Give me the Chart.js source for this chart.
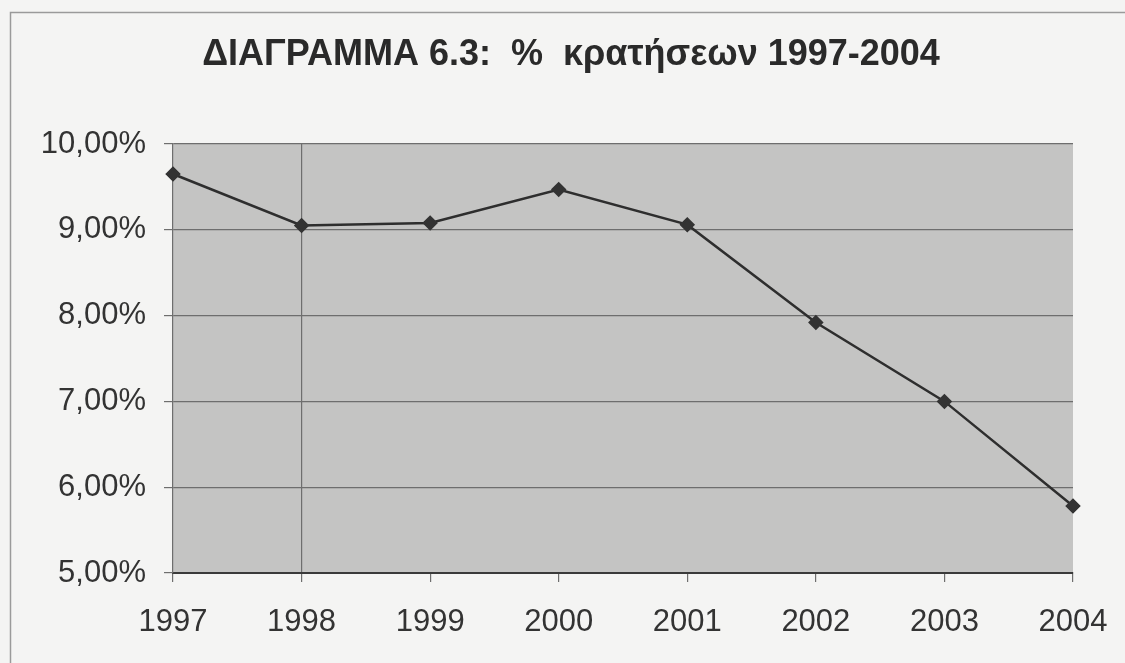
<!DOCTYPE html>
<html lang="el">
<head>
    <meta charset="UTF-8">
    <title>ΔΙΑΓΡΑΜΜΑ 6.3</title>
    <script src="https://cdn.jsdelivr.net/npm/chart.js"></script>
    <style>
        html, body { margin: 0; padding: 0; background: #f4f4f3; }
        .chart-wrap { width: 1125px; height: 663px; position: relative; }
    </style>
</head>
<body>
    <div class="chart-wrap">
        <canvas id="rateChart"></canvas>
    </div>

    <script>
        // Data
        const years = ['1997', '1998', '1999', '2000', '2001', '2002', '2003', '2004'];
        const rates = [9.65, 9.05, 9.08, 9.47, 9.06, 7.92, 7.00, 5.78];
        const yTicks = [5, 6, 7, 8, 9, 10];

        const titleText = 'ΔΙΑΓΡΑΜΜΑ 6.3:  %  κρατήσεων 1997-2004';

        // page background, outer frame, grey plot area and the title
        const backdrop = {
            id: 'backdrop',
            beforeDraw(chart) {
                const ctx = chart.ctx;
                const a = chart.chartArea;
                ctx.save();
                ctx.fillStyle = '#f4f4f3';
                ctx.fillRect(0, 0, chart.width, chart.height);
                ctx.strokeStyle = '#9a9a9a';
                ctx.lineWidth = 1.5;
                ctx.strokeRect(10.5, 12.5, chart.width + 20, chart.height + 20);
                ctx.fillStyle = '#c4c4c3';
                ctx.fillRect(a.left, a.top, a.right - a.left, a.bottom - a.top);

                ctx.fillStyle = '#2a2a2a';
                ctx.font = 'bold 36px "Liberation Sans", Arial';
                ctx.textAlign = 'center';
                ctx.textBaseline = 'middle';
                ctx.fillText(titleText, 571, 55);
                ctx.restore();
            }
        };

        function fmtPct(v) {
            return v.toFixed(2).replace('.', ',') + '%';
        }

        new Chart(document.getElementById('rateChart').getContext('2d'), {
            type: 'line',
            data: {
                labels: years,
                datasets: [{
                    data: rates,
                    borderColor: '#2e2e2e',
                    borderWidth: 2.5,
                    tension: 0,
                    pointStyle: 'rectRot',
                    pointRadius: 6,
                    pointBackgroundColor: '#333333',
                    pointBorderColor: '#333333'
                }]
            },
            options: {
                responsive: true,
                maintainAspectRatio: false,
                animation: false,
                layout: {
                    padding: { left: 10, right: 52, top: 144, bottom: 0 }
                },
                plugins: {
                    legend: { display: false },
                    tooltip: { enabled: false },
                    title: { display: false }
                },
                scales: {
                    x: {
                        offset: false,
                        grid: {
                            color: c => c.index === 1 ? '#6e6e6e' : 'rgba(0,0,0,0)',
                            tickColor: '#6e6e6e',
                            tickLength: 9,
                            lineWidth: 1.2
                        },
                        border: { color: '#3a3a3a', width: 2 },
                        ticks: {
                            color: '#333333',
                            padding: 22,
                            maxRotation: 0,
                            font: { family: 'Liberation Sans, Arial', size: 31 }
                        },
                        afterFit(scale) {
                            scale.height = 90;
                            scale.paddingLeft = 0;
                            scale.paddingRight = 0;
                        }
                    },
                    y: {
                        min: 5,
                        max: 10,
                        afterBuildTicks(scale) {
                            scale.ticks = yTicks.map(v => ({ value: v }));
                        },
                        grid: {
                            color: '#6e6e6e',
                            tickColor: '#6e6e6e',
                            tickLength: 9,
                            lineWidth: 1.2
                        },
                        border: { color: '#6e6e6e', width: 1.2 },
                        ticks: {
                            color: '#333333',
                            padding: 18,
                            font: { family: 'Liberation Sans, Arial', size: 31 },
                            callback: v => fmtPct(v)
                        },
                        afterFit(scale) { scale.width = 163; }
                    }
                }
            },
            plugins: [backdrop]
        });
    </script>
</body>
</html>
